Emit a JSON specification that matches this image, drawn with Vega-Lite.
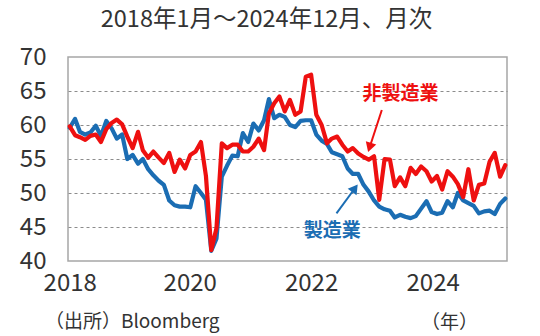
{
  "$schema": "https://vega.github.io/schema/vega-lite/v6.json",
  "autosize": "none",
  "width": 439,
  "height": 204,
  "padding": {"left": 68, "top": 57, "right": 33, "bottom": 75},
  "background": "white",
  "title": {
    "text": "2018年1月～2024年12月、月次",
    "fontSize": 23.5,
    "fontWeight": "normal",
    "font": "Noto Sans CJK JP",
    "color": "#333333",
    "anchor": "middle",
    "dx": -21,
    "offset": 14
  },
  "config": {
    "font": "Noto Sans CJK JP",
    "view": {"stroke": "#a6a6a6", "strokeWidth": 1.5},
    "axisY": {
      "ticks": false,
      "domain": false,
      "labelFontSize": 24,
      "labelColor": "#333333",
      "labelPadding": 22,
      "labelOverlap": false,
      "labelFlush": false,
      "grid": true,
      "gridDash": [3, 3],
      "gridColor": "#8c8c8c",
      "gridWidth": 1,
      "title": null
    },
    "axisX": {
      "grid": false,
      "ticks": false,
      "domain": false,
      "labelFontSize": 24,
      "labelColor": "#333333",
      "labelPadding": 10,
      "labelFlush": false,
      "labelOverlap": false
    }
  },
  "data": {
    "values": [
      {"date": "2018-01-01", "製造業": 59.6, "非製造業": 59.8},
      {"date": "2018-02-01", "製造業": 60.9, "非製造業": 58.5},
      {"date": "2018-03-01", "製造業": 59.0, "非製造業": 58.2},
      {"date": "2018-04-01", "製造業": 58.6, "非製造業": 57.8},
      {"date": "2018-05-01", "製造業": 58.9, "非製造業": 58.4},
      {"date": "2018-06-01", "製造業": 59.9, "非製造業": 58.6},
      {"date": "2018-07-01", "製造業": 58.4, "非製造業": 57.5},
      {"date": "2018-08-01", "製造業": 60.6, "非製造業": 59.4},
      {"date": "2018-09-01", "製造業": 59.5, "非製造業": 60.3},
      {"date": "2018-10-01", "製造業": 58.0, "非製造業": 60.8},
      {"date": "2018-11-01", "製造業": 58.6, "非製造業": 60.1},
      {"date": "2018-12-01", "製造業": 55.0, "非製造業": 58.3},
      {"date": "2019-01-01", "製造業": 55.6, "非製造業": 56.6},
      {"date": "2019-02-01", "製造業": 54.3, "非製造業": 59.0},
      {"date": "2019-03-01", "製造業": 55.0, "非製造業": 56.3},
      {"date": "2019-04-01", "製造業": 53.5, "非製造業": 55.2},
      {"date": "2019-05-01", "製造業": 52.6, "非製造業": 56.1},
      {"date": "2019-06-01", "製造業": 51.8, "非製造業": 55.2},
      {"date": "2019-07-01", "製造業": 51.2, "非製造業": 54.4},
      {"date": "2019-08-01", "製造業": 48.9, "非製造業": 55.9},
      {"date": "2019-09-01", "製造業": 48.2, "非製造業": 53.1},
      {"date": "2019-10-01", "製造業": 48.0, "非製造業": 54.9},
      {"date": "2019-11-01", "製造業": 48.0, "非製造業": 53.6},
      {"date": "2019-12-01", "製造業": 47.9, "非製造業": 55.6},
      {"date": "2020-01-01", "製造業": 51.0, "非製造業": 56.1},
      {"date": "2020-02-01", "製造業": 50.0, "非製造業": 57.5},
      {"date": "2020-03-01", "製造業": 49.0, "非製造業": 52.5},
      {"date": "2020-04-01", "製造業": 41.5, "非製造業": 41.6},
      {"date": "2020-05-01", "製造業": 43.3, "非製造業": 44.8},
      {"date": "2020-06-01", "製造業": 52.4, "非製造業": 57.3},
      {"date": "2020-07-01", "製造業": 54.0, "非製造業": 56.6},
      {"date": "2020-08-01", "製造業": 55.5, "非製造業": 57.1},
      {"date": "2020-09-01", "製造業": 55.4, "非製造業": 57.1},
      {"date": "2020-10-01", "製造業": 58.8, "非製造業": 56.1},
      {"date": "2020-11-01", "製造業": 57.5, "非製造業": 56.1},
      {"date": "2020-12-01", "製造業": 60.2, "非製造業": 56.8},
      {"date": "2021-01-01", "製造業": 59.2, "非製造業": 58.0},
      {"date": "2021-02-01", "製造業": 60.7, "非製造業": 56.3},
      {"date": "2021-03-01", "製造業": 63.8, "非製造業": 61.7},
      {"date": "2021-04-01", "製造業": 61.0, "非製造業": 63.2},
      {"date": "2021-05-01", "製造業": 61.5, "非製造業": 64.2},
      {"date": "2021-06-01", "製造業": 61.2, "非製造業": 62.0},
      {"date": "2021-07-01", "製造業": 60.0, "非製造業": 63.7},
      {"date": "2021-08-01", "製造業": 59.7, "非製造業": 61.5},
      {"date": "2021-09-01", "製造業": 60.6, "非製造業": 62.0},
      {"date": "2021-10-01", "製造業": 60.7, "非製造業": 67.1},
      {"date": "2021-11-01", "製造業": 60.7, "非製造業": 67.4},
      {"date": "2021-12-01", "製造業": 58.6, "非製造業": 61.5},
      {"date": "2022-01-01", "製造業": 57.7, "非製造業": 60.0},
      {"date": "2022-02-01", "製造業": 57.2, "非製造業": 57.3},
      {"date": "2022-03-01", "製造業": 56.0, "非製造業": 58.0},
      {"date": "2022-04-01", "製造業": 55.7, "非製造業": 58.3},
      {"date": "2022-05-01", "製造業": 55.4, "非製造業": 57.1},
      {"date": "2022-06-01", "製造業": 53.6, "非製造業": 56.1},
      {"date": "2022-07-01", "製造業": 52.8, "非製造業": 56.6},
      {"date": "2022-08-01", "製造業": 52.8, "非製造業": 55.8},
      {"date": "2022-09-01", "製造業": 51.2, "非製造業": 55.3},
      {"date": "2022-10-01", "製造業": 50.2, "非製造業": 54.9},
      {"date": "2022-11-01", "製造業": 48.9, "非製造業": 55.4},
      {"date": "2022-12-01", "製造業": 48.0, "非製造業": 49.0},
      {"date": "2023-01-01", "製造業": 47.6, "非製造業": 55.0},
      {"date": "2023-02-01", "製造業": 47.4, "非製造業": 54.9},
      {"date": "2023-03-01", "製造業": 46.4, "非製造業": 51.0},
      {"date": "2023-04-01", "製造業": 46.8, "非製造業": 52.3},
      {"date": "2023-05-01", "製造業": 46.5, "非製造業": 51.0},
      {"date": "2023-06-01", "製造業": 46.3, "非製造業": 53.7},
      {"date": "2023-07-01", "製造業": 46.6, "非製造業": 52.8},
      {"date": "2023-08-01", "製造業": 47.7, "非製造業": 53.9},
      {"date": "2023-09-01", "製造業": 48.8, "非製造業": 53.2},
      {"date": "2023-10-01", "製造業": 47.2, "非製造業": 51.7},
      {"date": "2023-11-01", "製造業": 46.9, "非製造業": 52.5},
      {"date": "2023-12-01", "製造業": 47.1, "非製造業": 50.5},
      {"date": "2024-01-01", "製造業": 48.8, "非製造業": 53.2},
      {"date": "2024-02-01", "製造業": 47.9, "非製造業": 52.4},
      {"date": "2024-03-01", "製造業": 50.0, "非製造業": 51.3},
      {"date": "2024-04-01", "製造業": 48.9, "非製造業": 49.4},
      {"date": "2024-05-01", "製造業": 48.5, "非製造業": 53.5},
      {"date": "2024-06-01", "製造業": 48.1, "非製造業": 48.9},
      {"date": "2024-07-01", "製造業": 47.0, "非製造業": 51.2},
      {"date": "2024-08-01", "製造業": 47.3, "非製造業": 51.4},
      {"date": "2024-09-01", "製造業": 47.4, "非製造業": 54.6},
      {"date": "2024-10-01", "製造業": 46.9, "非製造業": 55.9},
      {"date": "2024-11-01", "製造業": 48.4, "非製造業": 52.4},
      {"date": "2024-12-01", "製造業": 49.2, "非製造業": 54.1}
    ]
  },
  "layer": [
    {
      "transform": [{"fold": ["製造業", "非製造業"], "as": ["series", "value"]}],
      "mark": {"type": "line", "strokeWidth": 4.2, "strokeJoin": "round", "strokeCap": "round"},
      "encoding": {
        "x": {
          "field": "date",
          "type": "temporal",
          "scale": {
            "type": "utc",
            "domain": [
              {"year": 2017, "month": 12, "date": 22, "utc": true},
              {"year": 2024, "month": 12, "date": 11, "utc": true}
            ]
          },
          "axis": {
            "values": [
              {"year": 2018, "month": 1, "date": 1, "utc": true},
              {"year": 2019, "month": 11, "date": 28, "utc": true},
              {"year": 2021, "month": 11, "date": 1, "utc": true},
              {"year": 2023, "month": 10, "date": 7, "utc": true}
            ],
            "tickCount": 10,
            "labelExpr": "utcFormat(datum.value + 8640000000, '%Y')",
            "labelOverlap": false,
            "title": "（年）",
            "titleFontSize": 19,
            "titleFontWeight": "normal",
            "titleColor": "#333333",
            "titleX": 381,
            "titleY": 61,
            "titleAlign": "center",
            "titleBaseline": "middle",
            "titleAnchor": null
          }
        },
        "y": {
          "field": "value",
          "type": "quantitative",
          "scale": {"domain": [40, 70], "nice": false, "zero": false},
          "axis": {
            "values": [40, 45, 50, 55, 60, 65, 70],
            "tickCount": 10,
            "labelOverlap": false,
            "title": null,
            "gridOpacity": {"condition": {"test": "datum.value == 40 || datum.value == 70", "value": 0}, "value": 1}
          }
        },
        "color": {
          "field": "series",
          "type": "nominal",
          "scale": {"domain": ["製造業", "非製造業"], "range": ["#1B6DB3", "#EE1010"]},
          "legend": null
        }
      }
    },
    {
      "data": {"values": [{}]},
      "mark": {"type": "text", "text": "非製造業", "fontSize": 19, "fontWeight": "bold", "color": "#EE1010", "align": "center", "baseline": "middle"},
      "encoding": {
        "x": {"datum": {"year": 2023, "month": 4, "date": 4, "utc": true}, "type": "temporal"},
        "y": {"datum": 64.5, "type": "quantitative"}
      }
    },
    {
      "data": {"values": [{}]},
      "mark": {"type": "rule", "strokeWidth": 2, "color": "#EE1010"},
      "encoding": {
        "x": {"datum": {"year": 2022, "month": 12, "date": 16, "utc": true}, "type": "temporal"},
        "y": {"datum": 62.2, "type": "quantitative"},
        "x2": {"datum": {"year": 2022, "month": 10, "date": 6, "utc": true}},
        "y2": {"datum": 56.7}
      }
    },
    {
      "data": {"values": [{}]},
      "mark": {"type": "point", "shape": "triangle-up", "filled": true, "size": 120, "angle": 198, "color": "#EE1010", "opacity": 1},
      "encoding": {
        "x": {"datum": {"year": 2022, "month": 10, "date": 6, "utc": true}, "type": "temporal"},
        "y": {"datum": 56.7, "type": "quantitative"}
      }
    },
    {
      "data": {"values": [{}]},
      "mark": {"type": "text", "text": "製造業", "fontSize": 19, "fontWeight": "bold", "color": "#1B6DB3", "align": "center", "baseline": "middle"},
      "encoding": {
        "x": {"datum": {"year": 2022, "month": 3, "date": 4, "utc": true}, "type": "temporal"},
        "y": {"datum": 44.45, "type": "quantitative"}
      }
    },
    {
      "data": {"values": [{}]},
      "mark": {"type": "rule", "strokeWidth": 2, "color": "#1B6DB3"},
      "encoding": {
        "x": {"datum": {"year": 2022, "month": 3, "date": 28, "utc": true}, "type": "temporal"},
        "y": {"datum": 47.0, "type": "quantitative"},
        "x2": {"datum": {"year": 2022, "month": 7, "date": 13, "utc": true}},
        "y2": {"datum": 50.7}
      }
    },
    {
      "data": {"values": [{}]},
      "mark": {"type": "point", "shape": "triangle-up", "filled": true, "size": 120, "angle": 36, "color": "#1B6DB3", "opacity": 1},
      "encoding": {
        "x": {"datum": {"year": 2022, "month": 7, "date": 13, "utc": true}, "type": "temporal"},
        "y": {"datum": 50.7, "type": "quantitative"}
      }
    },
    {
      "data": {"values": [{}]},
      "mark": {"type": "text", "text": "（出所）Bloomberg", "fontSize": 19, "color": "#333333", "align": "left", "baseline": "middle", "clip": false},
      "encoding": {
        "x": {"datum": {"year": 2017, "month": 8, "date": 10, "utc": true}, "type": "temporal"},
        "y": {"datum": 31.0, "type": "quantitative"}
      }
    }
  ]
}
